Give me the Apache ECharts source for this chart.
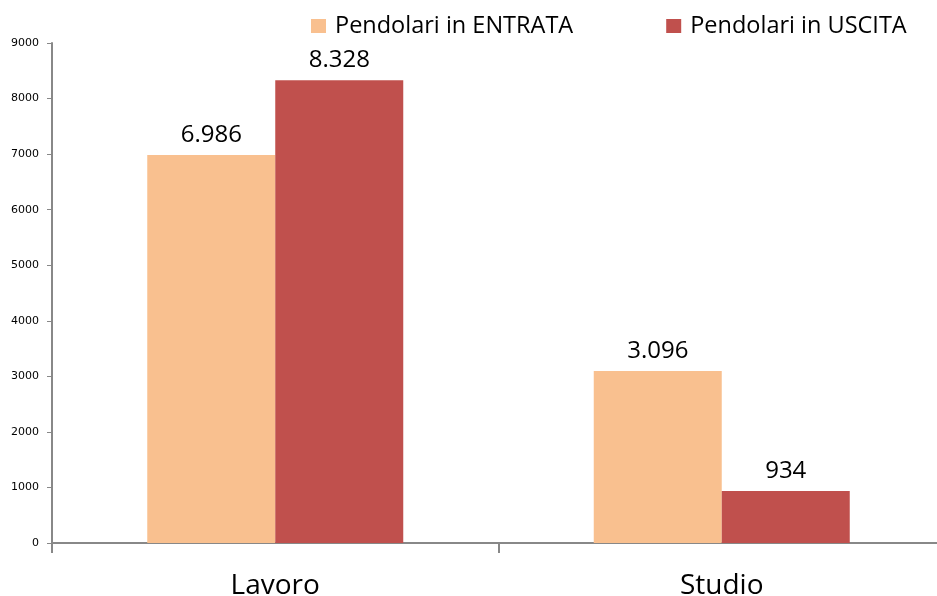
<!DOCTYPE html>
<html>
<head>
<meta charset="utf-8">
<script src="https://cdn.jsdelivr.net/npm/echarts@6/dist/echarts.min.js"></script>
<style>
  html, body { margin: 0; padding: 0; background: #fff; }
  #chart { width: 937px; height: 596px; }
</style>
</head>
<body>
<div id="chart"></div>
<script>
var categories = ['Lavoro', 'Studio'];
var entrata = [6986, 3096];
var uscita = [8328, 934];
var seriesNames = ['Pendolari in ENTRATA', 'Pendolari in USCITA'];

function fmtIt(v) {
  return String(v).replace(/\B(?=(\d{3})+(?!\d))/g, '.');
}

var labelStyle = {
  show: true,
  position: 'top',
  distance: 8,
  fontFamily: 'Open Sans',
  fontSize: 24,
  color: '#000',
  formatter: function (p) { return fmtIt(p.value); }
};

var chart = echarts.init(document.getElementById('chart'));
chart.setOption({
  animation: false,
  textStyle: { fontFamily: 'Open Sans' },
  legend: {
    top: 9,
    left: 306,
    itemWidth: 15,
    itemHeight: 14,
    itemGap: 93,
    icon: 'rect',
    textStyle: { fontSize: 23.5, color: '#000', fontFamily: 'Open Sans', padding: [0, 0, 0, 4] },
    data: seriesNames
  },
  grid: { left: 52, width: 893, top: 43, bottom: 53, outerBoundsMode: 'none', containLabel: false },
  xAxis: {
    type: 'category',
    data: categories,
    axisLine: { lineStyle: { color: '#888', width: 2 } },
    axisTick: { show: true, length: 10, lineStyle: { color: '#888', width: 2 } },
    axisLabel: { fontSize: 28, color: '#000', margin: 29, fontFamily: 'Open Sans' }
  },
  yAxis: {
    type: 'value',
    min: 0,
    max: 9000,
    interval: 1000,
    splitLine: { show: false },
    axisLine: { show: true, lineStyle: { color: '#888', width: 2 } },
    axisTick: { show: true, length: 5, lineStyle: { color: '#888', width: 1 } },
    axisLabel: {
      fontSize: 11, color: '#000', margin: 13, fontFamily: 'DejaVu Sans',
      formatter: function (v) { return String(v); }
    }
  },
  series: [
    {
      name: seriesNames[0],
      type: 'bar',
      data: entrata,
      barWidth: 128,
      barGap: '0%',
      itemStyle: { color: '#F9C08F' },
      label: labelStyle
    },
    {
      name: seriesNames[1],
      type: 'bar',
      data: uscita,
      barWidth: 128,
      barGap: '0%',
      itemStyle: { color: '#C0504D' },
      label: labelStyle
    }
  ]
});
</script>
</body>
</html>
